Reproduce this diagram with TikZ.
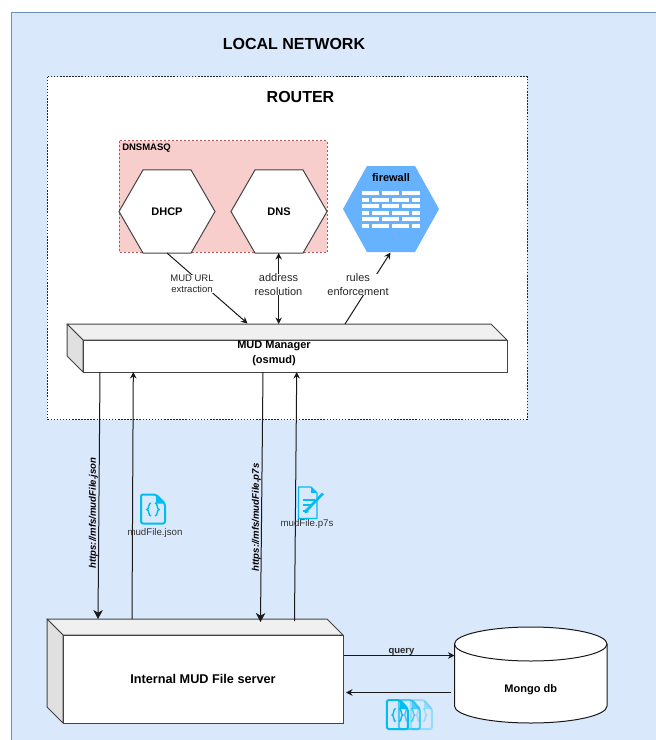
\documentclass[tikz,border=0pt]{standalone}
\usepackage{fontspec}
\setmainfont{Liberation Sans}
\usetikzlibrary{arrows.meta,shapes.geometric,calc}
\definecolor{netfill}{HTML}{DAE8FC}
\definecolor{netline}{HTML}{6C8EBF}
\definecolor{dnsfill}{HTML}{F8CECC}
\definecolor{dnsline}{HTML}{B85450}
\definecolor{fwblue}{HTML}{66B2FF}
\definecolor{iconcyan}{HTML}{00BEF2}
\definecolor{boxline}{HTML}{444444}
\newcommand{\pxfont}[1]{\fontsize{\dimexpr #1pt*3/4\relax}{\dimexpr #1pt*9/10\relax}\selectfont}
\tikzset{
  px/.style={x=0.75pt,y=-0.75pt},
  frontbox/.style={draw=boxline,line width=0.75pt,fill=white,inner sep=0pt,align=center},
  topface/.style={draw=boxline,line width=0.75pt,fill=black!6,line join=round},
  sideface/.style={draw=boxline,line width=0.75pt,fill=black!12,line join=round},
  hexnode/.style={regular polygon,regular polygon sides=6,minimum size=72pt,inner sep=0pt,draw=boxline,line width=0.75pt,fill=white,font=\bfseries\pxfont{11}},
  link/.style={black!90,line width=0.75pt},
  smalltip/.style={-{Stealth[length=6.5pt*0.75,width=6.5pt*0.75]}},
  bigtip/.style={-{Stealth[length=9pt*0.75,width=9.5pt*0.75,inset=2pt]}},
  edgelabel/.style={fill=white,inner sep=0pt,align=center,font=\pxfont{#1},text=black!85},
  edgelabel/.default=11,
  filelabel/.style={inner sep=0pt,font=\pxfont{9.7},text=black!80},
  urllabel/.style={rotate=90,inner sep=0pt,font=\bfseries\itshape\pxfont{9.6}},
  pics/jsonicon/.style={code={
    \draw[iconcyan,line width=1.5pt,line join=round,rounded corners=1.5pt,opacity=#1]
      (1,1) -- (16,1) -- (25,10) -- (25,30) -- (1,30) -- cycle;
    \fill[iconcyan,opacity=#1] (16,1) -- (25,10) -- (16,10) -- cycle;
    \draw[iconcyan,line width=1.1pt,opacity=#1]
      (11,9.5) .. controls (8,9.5) and (9.5,15.5) .. (7,16) .. controls (9.5,16.5) and (8,22.5) .. (11,22.5);
    \draw[iconcyan,line width=1.1pt,opacity=#1]
      (15,9.5) .. controls (18,9.5) and (16.5,15.5) .. (19,16) .. controls (16.5,16.5) and (18,22.5) .. (15,22.5);
  }}
}
\begin{document}
\begin{tikzpicture}[px]
\useasboundingbox (0,0) rectangle (656,740);
% local network
\fill[netfill] (11.5,12.5) rectangle (656,740);
\draw[netline,line width=0.75pt] (656,12.5) -- (11.5,12.5) -- (11.5,740);
\node[inner sep=0pt,font=\bfseries\pxfont{16}] (localnet) at (294,44) {LOCAL NETWORK};
% router
\draw[black!85,fill=white,line width=0.7pt,dash pattern=on 1.15pt off 1.15pt] (47,76.5) rectangle (527,419.5);
\node[inner sep=0pt,font=\bfseries\pxfont{16}] (routerlabel) at (300.5,97) {ROUTER};
% dnsmasq
\draw[dnsline,fill=dnsfill,line width=0.7pt,dash pattern=on 1.5pt off 1.5pt] (119,140.5) rectangle (327,252);
\node[anchor=west,inner sep=0pt,font=\bfseries\pxfont{9.5}] (dnsmasq) at (122,148) {DNSMASQ};
% hexagons
\node[hexnode] (dhcp) at (167,211.5) {DHCP};
\node[hexnode] (dns) at (279,211.5) {DNS};
% firewall
\fill[fwblue] (343,209) -- (367,166) -- (415,166) -- (439,209) -- (415,252) -- (367,252) -- cycle;
\node[minimum width=72pt,minimum height=64.5pt,inner sep=0pt] (fw) at (391,209) {};
\node[inner sep=0pt,font=\bfseries\pxfont{11}] (fwlabel) at (391,178) {firewall};
\foreach \yy in {191,204,217}{
  \fill[white] (361.7,\yy) rectangle (379.3,\yy+4);
  \fill[white] (382,\yy) rectangle (399.3,\yy+4);
  \fill[white] (401.7,\yy) rectangle (420,\yy+4);
}
\foreach \yy in {197.5,210.5,223.5}{
  \fill[white] (361.7,\yy) rectangle (369.3,\yy+4);
  \fill[white] (372,\yy) rectangle (389.3,\yy+4);
  \fill[white] (391.7,\yy) rectangle (409.3,\yy+4);
  \fill[white] (412,\yy) rectangle (420,\yy+4);
}
% MUD manager
\draw[topface] (67,324) -- (491,324) -- (507,340) -- (83,340) -- cycle;
\draw[sideface] (67,324) -- (83,340) -- (83,372) -- (67,356) -- cycle;
\node[frontbox,minimum width=318pt,minimum height=24pt] (mud) at (295,356) {};
\node[inner sep=0pt,align=center,font=\bfseries\pxfont{11}] (mudlabel) at (274,353.5) {MUD Manager\\[0.9pt](osmud)};
% file server
\draw[topface] (47,619) -- (327,619) -- (343,635) -- (63,635) -- cycle;
\draw[sideface] (47,619) -- (63,635) -- (63,723) -- (47,707) -- cycle;
\node[frontbox,minimum width=210pt,minimum height=66pt,font=\bfseries\pxfont{12.7}] (server) at (203,679) {Internal MUD File server};
% mongo
\draw[black!90,line width=0.75pt,fill=white] (454.5,644) -- (454.5,706) arc[start angle=180,end angle=360,x radius=76.25,y radius=-17] -- (607,644);
\draw[black!90,line width=0.75pt,fill=white] (530.75,644) ellipse [x radius=76.25,y radius=17];
\node[minimum width=114pt,minimum height=40pt,inner sep=0pt,font=\bfseries\pxfont{11}] (mongo) at (530.75,690) {Mongo db};
% anchors
\coordinate (a1t) at (100,372);  \coordinate (a1b) at (98,619);
\coordinate (a2t) at (133.3,372);\coordinate (a2b) at (132,619);
\coordinate (a3t) at (263,372);  \coordinate (a3b) at (260.5,622);
\coordinate (a4t) at (296.7,372);\coordinate (a4b) at (294.5,621);
\coordinate (q1) at (344,655.5); \coordinate (q2) at (454.5,655.5);
\coordinate (r1) at (451,692.5); \coordinate (r2) at (346,692.5);
\coordinate (d1) at (167,253);   \coordinate (d2) at (247.5,323.5);
\coordinate (e1) at (278.7,253); \coordinate (e2) at (278.7,324);
\coordinate (f1) at (345,324);   \coordinate (f2) at (390.5,252.5);
% connectors
\draw[link,smalltip] (d1) -- (d2);
\draw[link,{Stealth[length=6.5pt*0.75,width=6.5pt*0.75]}-{Stealth[length=6.5pt*0.75,width=6.5pt*0.75]}] (e1) -- (e2);
\draw[link,smalltip] (f1) -- (f2);
\draw[link,bigtip] (a1t) -- (a1b);
\draw[link,smalltip] (a2b) -- (a2t);
\draw[link,bigtip] (a3t) -- (a3b);
\draw[link,smalltip] (a4b) -- (a4t);
\draw[link,smalltip] (q1) -- (q2);
\draw[link,smalltip] (r1) -- (r2);
% connector labels
\node[edgelabel=9.5] (lblmud) at (192,284) {MUD URL\\extraction};
\node[edgelabel] (lbladdr) at (278.5,284.5) {address\\resolution};
\node[edgelabel] (lblrules) at (358,284.5) {rules\\enforcement};
\node[inner sep=0pt,font=\bfseries\pxfont{9.5},text=black!85] (lblquery) at (401.5,652) {query};
\node[urllabel] (url1) at (93.5,513) {https://mfs/mudFile.json};
\node[urllabel] (url2) at (256.5,517.5) {https://mfs/mudFile.p7s};
% json icon
\pic at (140,493.5) {jsonicon=1};
\node[filelabel] (jsonlabel) at (155,533) {mudFile.json};
% p7s icon
\draw[iconcyan,line width=0.9pt,line join=round] (298.5,487) -- (311,487) -- (317,493) -- (317,518.5) -- (298.5,518.5) -- cycle;
\fill[iconcyan] (311,487) -- (317,493) -- (311,493) -- cycle;
\draw[iconcyan,line width=0.9pt] (303,500) -- (315,500) (303,505) -- (312.5,505) (303,511) -- (307.5,511);
\draw[iconcyan,line width=2pt] (307,510) -- (323,493.5);
\fill[iconcyan] (304.5,513.5) -- (305.5,508.5) -- (309,512) -- cycle;
\node[filelabel] (p7slabel) at (307,524) {mudFile.p7s};
% stacked files
\begin{scope}[x=0.66pt]
\pic at ({410/0.88},699) {jsonicon=0.3};
\pic at ({398/0.88},699) {jsonicon=0.65};
\pic at ({386/0.88},699) {jsonicon=1};
\end{scope}
\end{tikzpicture}
\end{document}
